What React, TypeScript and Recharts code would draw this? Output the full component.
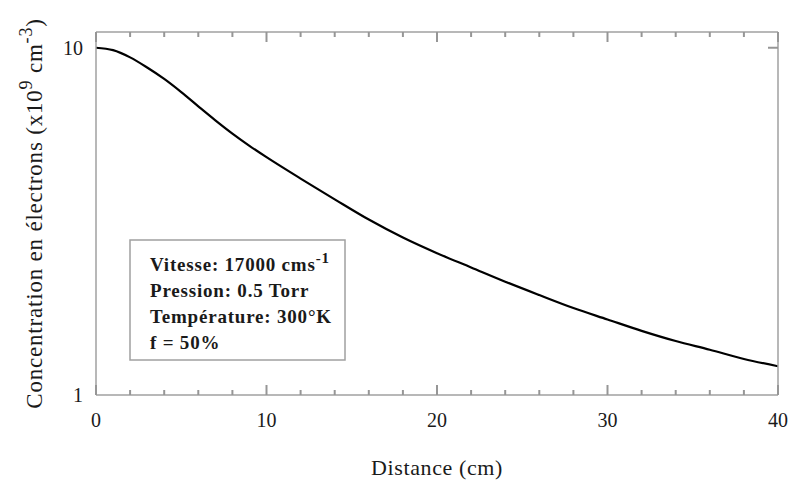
import { LineChart, Line, XAxis, YAxis } from "recharts";

// distance in cm, concentration in units of 1e9 cm^-3
const distance = [0, 1, 2, 3, 4, 5, 6, 7, 8, 9, 10, 12, 14, 16, 18, 20, 22, 24, 26, 28, 30, 32, 34, 36, 38, 40];
const concentration = [
  10.0, 9.84, 9.38, 8.77, 8.13, 7.45, 6.78, 6.18, 5.66, 5.22, 4.84, 4.2, 3.66, 3.2, 2.84, 2.56,
  2.33, 2.12, 1.94, 1.78, 1.65, 1.53, 1.43, 1.35, 1.27, 1.21,
];
const xTicks = [0, 2, 4, 6, 8, 10, 12, 14, 16, 18, 20, 22, 24, 26, 28, 30, 32, 34, 36, 38, 40];
const yTicks = [1, 10];

const legendLines = ["Vitesse: 17000 cms", "Pression: 0.5 Torr", "Température: 300°K", "f = 50%"];

const chartData = distance.map((d, i) => ({ x: d, y: concentration[i] }));

const frame = "#a0a0a0";
const tickColor = "#969696";
const font = "'Liberation Serif', 'DejaVu Serif', serif";
const textColor = "#1a1a1a";

// bottom axis: inward ticks (long every 10 cm, short every 2 cm) + labels
const BottomTick = (props: any) => {
  const { x, y, payload } = props;
  const major = payload.value % 10 === 0;
  return (
    <g>
      <path d={`M${x},${y}V${y - (major ? 10 : 5)}`} stroke={tickColor} strokeWidth={2} fill="none" />
      {major && (
        <text x={x} y={y + 32} textAnchor="middle" fontFamily={font} fontSize={20} fill={textColor}>
          {payload.value}
        </text>
      )}
    </g>
  );
};

// top frame: same ticks, pointing down
const TopTick = (props: any) => {
  const { x, y, payload } = props;
  const major = payload.value % 10 === 0;
  return (
    <g>
      <path d={`M${x},${y}V${y + (major ? 10 : 5)}`} stroke={tickColor} strokeWidth={2} fill="none" />
    </g>
  );
};

const LeftTick = (props: any) => {
  const { x, y, payload } = props;
  return (
    <text x={x - 13} y={y + 7} textAnchor="end" fontFamily={font} fontSize={20} fill={textColor}>
      {payload.value}
    </text>
  );
};

const RightTick = (props: any) => {
  const { x, y, payload } = props;
  if (payload.value !== 10) return <g />;
  return <path d={`M${x},${y}H${x - 10}`} stroke={tickColor} strokeWidth={2} fill="none" />;
};

const YLabel = (props: any) => {
  const vb = props.viewBox || { x: 0, y: 32, width: 96, height: 363 };
  const cx = 42;
  const cy = vb.y + vb.height / 2;
  return (
    <text
      x={cx}
      y={cy}
      transform={`rotate(-90, ${cx}, ${cy})`}
      textAnchor="middle"
      fontFamily={font}
      fontSize={23}
      letterSpacing={0.8}
      fill={textColor}
    >
      Concentration en électrons (x10
      <tspan dy={-10} fontSize={18}>9</tspan>
      <tspan dy={10}> cm</tspan>
      <tspan dy={-10} fontSize={18}>-3</tspan>
      <tspan dy={10}>)</tspan>
    </text>
  );
};

const XLabel = (props: any) => {
  const vb = props.viewBox || { x: 96, y: 395, width: 682, height: 93 };
  return (
    <text
      x={vb.x + vb.width / 2}
      y={475}
      textAnchor="middle"
      fontFamily={font}
      fontSize={22}
      letterSpacing={0.6}
      fill={textColor}
    >
      Distance (cm)
    </text>
  );
};

export default function App() {
  return (
    <div style={{ position: "absolute", left: 0, top: 0, width: 795, height: 488, background: "#fff" }}>
      <LineChart width={795} height={488} data={chartData} margin={{ top: 0, right: 0, bottom: 0, left: 0 }}>
        <XAxis
          dataKey="x"
          type="number"
          domain={[0, 40]}
          ticks={xTicks}
          interval={0}
          height={93}
          tickSize={0}
          tickMargin={0}
          tickLine={false}
          tick={<BottomTick />}
          axisLine={{ stroke: frame, strokeWidth: 1.5 }}
          allowDataOverflow
          label={<XLabel />}
        />
        <XAxis
          xAxisId="top"
          orientation="top"
          dataKey="x"
          type="number"
          domain={[0, 40]}
          ticks={xTicks}
          interval={0}
          height={32}
          tickSize={0}
          tickMargin={0}
          tickLine={false}
          tick={<TopTick />}
          axisLine={{ stroke: frame, strokeWidth: 1.5 }}
          allowDataOverflow
        />
        <YAxis
          type="number"
          scale="log"
          domain={[1, 11.1]}
          ticks={yTicks}
          interval={0}
          width={96}
          tickSize={0}
          tickMargin={0}
          tickLine={false}
          tick={<LeftTick />}
          axisLine={{ stroke: frame, strokeWidth: 1.5 }}
          allowDataOverflow
          label={<YLabel />}
        />
        <YAxis
          yAxisId="right"
          orientation="right"
          type="number"
          scale="log"
          domain={[1, 11.1]}
          ticks={yTicks}
          interval={0}
          width={17}
          tickSize={0}
          tickMargin={0}
          tickLine={false}
          tick={<RightTick />}
          axisLine={{ stroke: frame, strokeWidth: 1.5 }}
          allowDataOverflow
        />
        <Line
          type="monotone"
          dataKey="y"
          stroke="#000"
          strokeWidth={2.2}
          dot={false}
          isAnimationActive={false}
        />
      </LineChart>
      {/* parameter box */}
      <svg
        width={795}
        height={488}
        style={{ position: "absolute", left: 0, top: 0, pointerEvents: "none" }}
      >
        <rect x={130} y={240} width={215} height={120} fill="#fff" stroke={frame} strokeWidth={1.5} />
        {legendLines.map((t, i) => (
          <text
            key={t}
            x={150}
            y={271 + i * 26}
            fontFamily={font}
            fontWeight="bold"
            fontSize={19}
            letterSpacing={0.8}
            fill={textColor}
          >
            {t}
            {i === 0 && (
              <tspan dy={-8} fontSize={15}>
                -1
              </tspan>
            )}
          </text>
        ))}
      </svg>
    </div>
  );
}
